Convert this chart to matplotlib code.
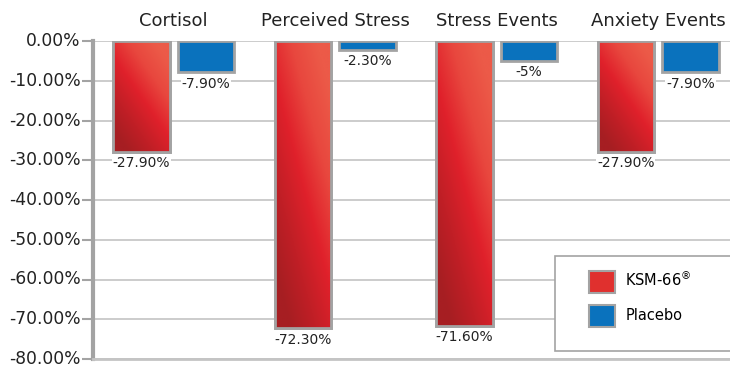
import numpy as np
import matplotlib
matplotlib.use('Agg')
import matplotlib.pyplot as plt
import matplotlib.transforms as mtransforms
from matplotlib.colors import LinearSegmentedColormap
from matplotlib.patches import Patch, Rectangle

categories = ['Cortisol', 'Perceived Stress', 'Stress Events', 'Anxiety Events']
ksm66 = [-27.9, -72.3, -71.6, -27.9]
placebo = [-7.9, -2.3, -5.0, -7.9]
ksm_labels = ['-27.90%', '-72.30%', '-71.60%', '-27.90%']
placebo_labels = ['-7.90%', '-2.30%', '-5%', '-7.90%']
yticks = [0, -10, -20, -30, -40, -50, -60, -70, -80]

plt.rcParams['font.family'] = ['DejaVu Sans']

fig = plt.figure(figsize=(7.30, 3.68), dpi=100)
ax = fig.add_axes([93 / 730, 1 - 359 / 368, 1 - 93 / 730, (359 - 41) / 368])

x = np.arange(len(categories))
width = 0.35
off = 0.2
edge = '#a3a3a3'
blue = '#0a72bd'

red_cmap = LinearSegmentedColormap.from_list(
    'redgrad', ['#a61e22', '#c11f26', '#e0212b', '#e8473e', '#ec5a48'])

# gradient image: light at top right, dark at bottom left
gx, gy = np.meshgrid(np.linspace(0, 1, 60), np.linspace(0, 1, 200))
grad = np.clip(0.55 * gx + 0.75 * gy - 0.15, 0, 1)

red_bars = ax.bar(x - off, ksm66, width, color='#d42226', edgecolor=edge, linewidth=2, zorder=3)
blue_bars = ax.bar(x + off, placebo, width, color=blue, edgecolor=edge, linewidth=2, zorder=3)

for b in red_bars:
    x0 = b.get_x()
    h = b.get_height()
    im = ax.imshow(grad, cmap=red_cmap, extent=[x0, x0 + b.get_width(), h, 0],
                   aspect='auto', origin='lower', zorder=3.5, interpolation='bilinear')
    im.set_clip_path(b)
    ax.add_patch(Rectangle((x0, 0), b.get_width(), h, fill=False, edgecolor=edge,
                           linewidth=2, zorder=4))

for xi, v, lab in zip(x - off, ksm66, ksm_labels):
    ax.annotate(lab, (xi, v), xytext=(0, -3), textcoords='offset points', ha='center', va='top',
                fontsize=10, color='#222222', zorder=5,
                bbox=dict(boxstyle='square,pad=0.05', fc='white', ec='none'))
for xi, v, lab in zip(x + off, placebo, placebo_labels):
    ax.annotate(lab, (xi, v), xytext=(0, -3), textcoords='offset points', ha='center', va='top',
                fontsize=10, color='#222222', zorder=5,
                bbox=dict(boxstyle='square,pad=0.05', fc='white', ec='none'))

ax.set_ylim(-80, 0)
ax.set_xlim(-0.5, 3.445)
ax.set_yticks(yticks)
ax.set_yticklabels(['%.2f%%' % v if v != 0 else '0.00%' for v in yticks], fontsize=12.3, color='#222222')
ax.tick_params(axis='y', length=8, width=1.5, color=edge, pad=1)
# nudge tick labels up a bit so the bottom one stays inside the figure
shift = mtransforms.ScaledTranslation(0, 2 / 100, fig.dpi_scale_trans)
for lab in ax.get_yticklabels():
    lab.set_transform(lab.get_transform() + shift)
ax.xaxis.set_ticks_position('top')
ax.set_xticks(x)
ax.set_xticklabels(categories, fontsize=13, color='#222222')
ax.tick_params(axis='x', length=0, pad=8)
ax.yaxis.grid(True, color='#c4c4c4', linewidth=1.2, zorder=0)
ax.set_axisbelow(True)
for s in ['top', 'right']:
    ax.spines[s].set_visible(False)
ax.spines['left'].set_color(edge)
ax.spines['left'].set_linewidth(3)
ax.spines['bottom'].set_color('#c4c4c4')
ax.spines['bottom'].set_linewidth(2)

ax.add_patch(Rectangle((555 / 730, 1 - 351 / 368), 0.3, (351 - 256) / 368,
                       transform=fig.transFigure, facecolor='white', edgecolor=edge,
                       linewidth=1.2, zorder=6, clip_on=False))
handles = [Patch(facecolor='#e0302e', edgecolor=edge, linewidth=1.5),
           Patch(facecolor=blue, edgecolor=edge, linewidth=1.5)]
leg = ax.legend(handles, ['KSM-66$^{\\circledR}$', 'Placebo'], loc='upper left',
                bbox_to_anchor=(589 / 730, 1 - 270 / 368), bbox_transform=fig.transFigure,
                frameon=False, fontsize=10.5, handlelength=1.8, handleheight=1.9,
                labelspacing=0.85, handletextpad=0.7, borderpad=0, borderaxespad=0)
leg.set_zorder(7)

fig.savefig('out.png', dpi=100)
